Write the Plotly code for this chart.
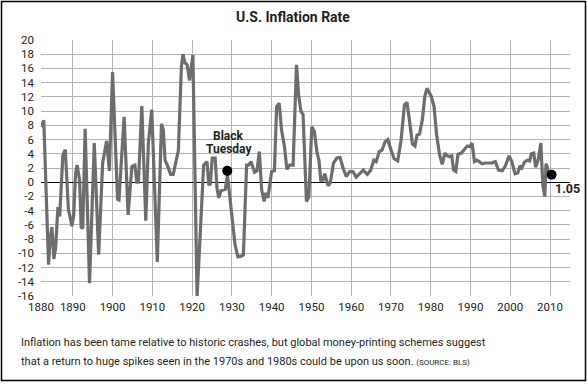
import plotly.graph_objects as go

# Year positions (fractional) and inflation values (%)
years = [1882.0, 1882.7, 1883.9, 1884.35, 1884.75, 1885.25, 1885.7, 1886.25, 1886.7, 1887.5,
         1888.1, 1888.9, 1889.3, 1889.75, 1890.2, 1890.7, 1891.1, 1891.7, 1892.1, 1892.5,
         1893.1, 1894.2, 1895.4, 1896.5, 1897.5, 1898.5, 1899.2, 1900.0, 1901.25, 1901.6,
         1902.9, 1903.9, 1904.85, 1905.6, 1906.1, 1906.5, 1907.35, 1908.35, 1909.0, 1909.85,
         1911.25, 1912.3, 1912.75, 1913.2, 1913.75, 1914.6, 1915.25, 1916.1, 1916.55, 1917.3,
         1917.7, 1918.2, 1918.75, 1919.35, 1919.75, 1920.2, 1921.25, 1922.9, 1923.75, 1924.2,
         1924.6, 1925.05, 1925.8, 1926.25, 1926.7, 1927.25, 1928.35, 1928.9, 1929.9, 1930.8,
         1931.5, 1932.35, 1932.9, 1933.7, 1934.2, 1934.8, 1935.7, 1936.3, 1936.9, 1937.5,
         1938.1, 1938.5, 1939.05, 1940.0, 1940.7, 1941.25, 1941.9, 1942.5, 1943.2, 1943.85,
         1944.5, 1945.4, 1946.25, 1946.8, 1947.35, 1947.9, 1948.75, 1949.35, 1950.1, 1950.75,
         1951.4, 1951.9, 1952.35, 1952.9, 1953.35, 1954.2, 1954.75, 1955.55, 1956.4, 1957.2,
         1957.9, 1958.75, 1959.6, 1960.45, 1961.25, 1962.05, 1963.05, 1964.05, 1964.9, 1965.7,
         1966.3, 1967.05, 1967.75, 1968.55, 1969.2, 1970.05, 1970.8, 1971.7, 1972.55, 1973.4,
         1974.05, 1974.7, 1975.4, 1976.05, 1976.55, 1977.2, 1977.9, 1978.5, 1979.05, 1980.2,
         1980.85, 1981.5, 1982.25, 1982.9, 1983.55, 1984.2, 1984.7, 1985.3, 1985.75, 1986.3,
         1986.85, 1987.7, 1988.5, 1989.2, 1989.8, 1990.4, 1991.0, 1991.6, 1992.2, 1992.9,
         1993.8, 1994.55, 1995.4, 1996.25, 1997.05, 1998.0, 1998.8, 1999.7, 2000.4, 2001.2,
         2001.9, 2002.4, 2002.9, 2003.55, 2004.3, 2004.9, 2005.3, 2005.9, 2006.4, 2007.0,
         2007.7, 2008.2, 2008.7, 2009.0, 2009.3, 2009.55]
inflation = [7.8, 8.7, -11.6, -7.7, -6.3, -10.8, -9.1, -3.5, -4.8, 3.8,
             4.6, -3.9, -4.8, -6.2, -4.8, 1.3, 2.4, 0.3, -6.3, -6.5,
             7.5, -14.2, 5.5, -10.2, 2.7, 5.8, 1.6, 15.5, -2.4, -2.5,
             9.2, -4.6, 2.2, 2.4, 0.0, 0.0, 10.7, -5.4, 5.5, 10.2,
             -11.2, 8.2, 7.4, 3.1, 2.4, 1.1, 1.1, 3.4, 4.5, 16.2,
             18.0, 16.8, 16.5, 14.3, 16.2, 17.9, -16.1, 2.4, 2.9, -0.4,
             -0.2, 3.4, 3.4, -0.8, -2.2, -1.2, -1.0, 1.0, -4.2, -8.8,
             -10.5, -10.4, -10.2, 2.4, 2.4, 2.9, 1.4, 1.6, 4.3, -1.1,
             -2.7, -1.5, -2.2, 1.5, 1.6, 10.6, 11.1, 7.3, 5.1, 1.8,
             2.4, 2.4, 16.5, 12.2, 10.0, 9.5, -2.7, -2.1, 7.8, 7.1,
             4.2, 3.1, 0.3, 0.3, 1.2, -0.5, -0.1, 2.7, 3.4, 3.5,
             2.1, 0.8, 1.5, 1.5, 0.7, 1.2, 1.7, 1.1, 1.7, 3.1,
             2.9, 4.3, 4.5, 5.7, 6.0, 4.5, 3.3, 3.0, 5.9, 10.9,
             11.2, 8.5, 5.4, 5.1, 6.6, 6.8, 8.8, 12.0, 13.2, 12.0,
             10.6, 6.6, 3.8, 2.5, 4.1, 3.7, 3.6, 3.7, 1.7, 1.5,
             3.9, 4.1, 4.7, 5.1, 5.0, 5.5, 2.9, 3.1, 2.9, 2.6,
             2.7, 2.7, 2.7, 2.9, 1.7, 1.6, 2.3, 3.7, 2.9, 1.2,
             1.3, 2.3, 2.0, 2.8, 3.1, 3.0, 4.0, 4.1, 2.1, 3.1,
             5.5, -0.4, -2.0, 2.6, 2.2, 1.2]

x_tick_vals = [1882, 1890, 1900, 1910, 1920, 1930, 1940, 1950, 1960, 1970, 1980, 1990, 2000, 2010]
x_tick_text = ["1880", "1890", "1900", "1910", "1920", "1930", "1940", "1950", "1960", "1970",
               "1980", "1990", "2000", "2010"]
y_tick_vals = list(range(-16, 21, 2))
y_tick_text = [str(v) for v in y_tick_vals]

black_tuesday = {"year": 1928.85, "value": 1.6}
latest = {"year": 2010.4, "value": 1.05, "label": "1.05"}

FONT = "Roboto"
INK = "#231f20"
GRID = "#b4b4b4"

W, H = 587, 384
ML, MR, MT, MB = 41, 17, 40, 88
plot_w = W - ML - MR            # full plot width (incl. a blank strip right of 2010)
grid_w = 509                    # width of the gridded area (1882..2010)
x0, x1 = 1882, 2010
x_max = x0 + (x1 - x0) * plot_w / grid_w

fig = go.Figure()
fig.add_trace(go.Scatter(x=years, y=inflation, mode="lines",
                         line=dict(color="#6d6d6d", width=3.2), hoverinfo="skip"))
fig.add_trace(go.Scatter(x=[black_tuesday["year"], latest["year"]],
                         y=[black_tuesday["value"], latest["value"]],
                         mode="markers", marker=dict(color="black", size=10),
                         cliponaxis=False, hoverinfo="skip"))

fig.update_layout(
    width=W, height=H,
    margin=dict(l=ML, r=MR, t=MT, b=MB),
    paper_bgcolor="white", plot_bgcolor="white",
    showlegend=False,
    font=dict(family=FONT, color=INK, size=11),
    xaxis=dict(range=[x0, x_max], tickvals=x_tick_vals, ticktext=x_tick_text,
               showgrid=True, gridcolor=GRID, gridwidth=1, zeroline=False,
               showline=False, ticks="", ticklabelstandoff=2, tickfont=dict(size=11.5)),
    yaxis=dict(range=[-16, 20], tickvals=y_tick_vals, ticktext=y_tick_text,
               showgrid=True, gridcolor=GRID, gridwidth=1, zeroline=True,
               zerolinecolor="black", zerolinewidth=1.3, showline=False, ticks="",
               ticklabelstandoff=6, tickfont=dict(size=11.5)),
)

def px_x(px):
    return (px - ML) / plot_w

def px_y(py):
    return (H - MB - py) / (H - MT - MB)

annotations = [
    dict(text="<b>U.S. Inflation Rate</b>", xref="paper", yref="paper",
         x=px_x(292.5), y=px_y(17), xanchor="center", yanchor="middle",
         showarrow=False, font=dict(size=14, family=FONT, color=INK)),
    dict(text="<b>Black</b>", x=1929.2, y=6.5, xanchor="center", yanchor="middle",
         showarrow=False, font=dict(size=12, family=FONT, color=INK)),
    dict(text="<b>Tuesday</b>", x=1929.2, y=4.7, xanchor="center", yanchor="middle",
         showarrow=False, font=dict(size=12, family=FONT, color=INK)),
    dict(text="<b>" + latest["label"] + "</b>",
         x=latest["year"] + 0.4, y=latest["value"] - 2.0, xanchor="left", yanchor="middle",
         showarrow=False, font=dict(size=12.5, family=FONT, color=INK)),
    dict(text="Inflation has been tame relative to historic crashes, but global money-printing schemes suggest",
         xref="paper", yref="paper", x=px_x(19), y=px_y(342),
         xanchor="left", yanchor="middle", showarrow=False,
         font=dict(size=11, family=FONT, color=INK)),
    dict(text="that a return to huge spikes seen in the 1970s and 1980s could be upon us soon. "
              "<span style='font-size:8px'>(SOURCE: BLS)</span>",
         xref="paper", yref="paper", x=px_x(19), y=px_y(361),
         xanchor="left", yanchor="middle", showarrow=False,
         font=dict(size=11, family=FONT, color=INK)),
]
fig.update_layout(annotations=annotations)

# blank strip right of the 2010 gridline (hides grid and zero line there, below the marks)
fig.add_shape(type="rect", xref="x", yref="paper", x0=x1 + 0.2, x1=x_max + 1, y0=-0.01, y1=1.01,
              line=dict(width=0), fillcolor="white", layer="between")

fig.add_shape(type="rect", xref="paper", yref="paper",
              x0=px_x(1.5), x1=px_x(585.5), y0=px_y(380.5), y1=px_y(1.5),
              line=dict(color="black", width=1.5), fillcolor="rgba(0,0,0,0)", layer="above")

fig.write_html("out.html", config={"displayModeBar": False},
               post_script="document.body.style.margin='0';document.body.style.overflow='hidden';")
